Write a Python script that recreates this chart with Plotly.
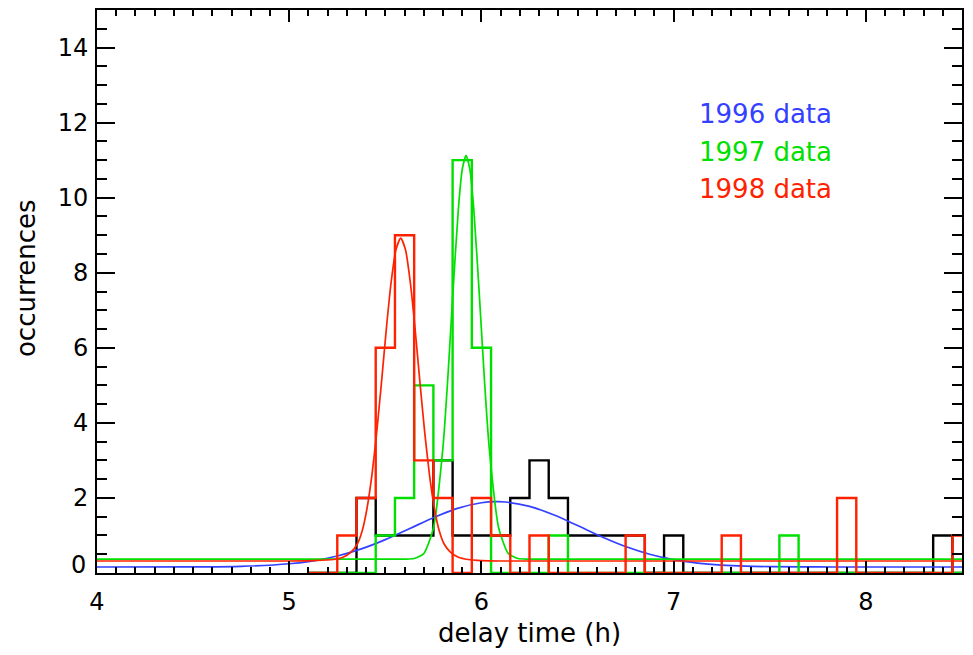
import plotly.graph_objects as go

# ---- histogram data (bin centres, 0.1 h wide bins) ----
bin_centers = [5.1, 5.2, 5.3, 5.4, 5.5, 5.6, 5.7, 5.8, 5.9, 6.0,
               6.1, 6.2, 6.3, 6.4, 6.5, 6.6, 6.7, 6.8, 6.9, 7.0,
               7.1, 7.2, 7.3, 7.4, 7.5, 7.6, 7.7, 7.8, 7.9, 8.0,
               8.1, 8.2, 8.3, 8.4, 8.5]
counts_1996 = [0, 0, 0, 2, 1, 1, 1, 3, 1, 1,
               1, 2, 3, 2, 1, 1, 1, 1, 0, 1,
               0, 0, 0, 0, 0, 0, 0, 0, 0, 0,
               0, 0, 0, 1, 0]
counts_1997 = [0, 0, 0, 0, 1, 2, 5, 3, 11, 6,
               0, 0, 0, 1, 0, 0, 0, 0, 0, 0,
               0, 0, 0, 0, 0, 1, 0, 0, 0, 0,
               0, 0, 0, 0, 0]
counts_1998 = [0, 0, 1, 2, 6, 9, 3, 2, 0, 2,
               1, 0, 1, 0, 0, 0, 0, 1, 0, 0,
               0, 0, 1, 0, 0, 0, 0, 0, 2, 0,
               0, 0, 0, 0, 1]

# ---- fitted curves ----
fit96_x = [4.0, 4.5, 4.75, 5.0, 5.125, 5.25, 5.375, 5.5, 5.625, 5.75, 5.875,
           6.0, 6.08, 6.125, 6.25, 6.375, 6.5, 6.625, 6.75, 6.875, 7.0,
           7.125, 7.25, 7.375, 7.5, 7.75, 8.0, 8.5]
fit96_y = [0.16, 0.163, 0.178, 0.246, 0.325, 0.454, 0.642, 0.89, 1.179, 1.474, 1.721,
           1.871, 1.90, 1.891, 1.775, 1.55, 1.263, 0.968, 0.706, 0.50, 0.356,
           0.264, 0.211, 0.183, 0.17, 0.161, 0.16, 0.16]

fit97_x = [4.0, 5.5, 5.6, 5.65, 5.7, 5.75, 5.8, 5.825, 5.85, 5.88, 5.90, 5.92,
           5.94, 5.96, 5.99, 6.015, 6.04, 6.09, 6.14, 6.19, 6.24, 6.4, 8.5]
fit97_y = [0.37, 0.37, 0.371, 0.386, 0.516, 1.194, 3.36, 5.19, 7.33, 9.70, 10.75, 11.13,
           10.75, 9.70, 7.33, 5.19, 3.36, 1.194, 0.516, 0.386, 0.371, 0.37, 0.37]

fit98_x = [4.0, 5.0, 5.13, 5.23, 5.28, 5.32, 5.355, 5.38, 5.405, 5.43, 5.455, 5.48,
           5.505, 5.53, 5.555, 5.58, 5.605, 5.63, 5.655, 5.68, 5.705, 5.73, 5.755,
           5.78, 5.805, 5.84, 5.88, 5.93, 6.0, 6.1, 8.5]
fit98_y = [0.32, 0.32, 0.33, 0.36, 0.42, 0.55, 0.78, 1.13, 1.73, 2.60, 3.74, 5.08,
           6.49, 7.74, 8.61, 8.92, 8.61, 7.74, 6.49, 5.08, 3.74, 2.60, 1.73,
           1.13, 0.78, 0.55, 0.42, 0.36, 0.33, 0.32, 0.32]

legend_labels = ["1996 data", "1997 data", "1998 data"]
y_tick_values = [0, 2, 4, 6, 8, 10, 12, 14]
y_tick_labels = ["", "2", "4", "6", "8", "10", "12", "14"]  # "0" drawn separately, raised as in the original

BLACK = "#000000"
BLUE = "#3340ff"
GREEN = "#00e000"
RED = "#ff2200"

fig = go.Figure()

fig.add_trace(go.Scatter(x=bin_centers, y=counts_1996, mode="lines",
                         line=dict(color=BLACK, width=2.4, shape="hvh"), hoverinfo="skip"))
fig.add_trace(go.Scatter(x=fit96_x, y=fit96_y, mode="lines",
                         line=dict(color=BLUE, width=1.7, shape="spline"), hoverinfo="skip"))
fig.add_trace(go.Scatter(x=bin_centers, y=counts_1997, mode="lines",
                         line=dict(color=GREEN, width=2.4, shape="hvh"), hoverinfo="skip"))
fig.add_trace(go.Scatter(x=fit97_x, y=fit97_y, mode="lines",
                         line=dict(color=GREEN, width=1.7, shape="spline", smoothing=0.6), hoverinfo="skip"))
fig.add_trace(go.Scatter(x=bin_centers, y=counts_1998, mode="lines",
                         line=dict(color=RED, width=2.4, shape="hvh"), hoverinfo="skip"))
fig.add_trace(go.Scatter(x=fit98_x, y=fit98_y, mode="lines",
                         line=dict(color=RED, width=1.7, shape="spline", smoothing=0.6), hoverinfo="skip"))

FONT = "DejaVu Sans"

axis_common = dict(
    showline=True, linecolor=BLACK, linewidth=2, mirror="ticks",
    showgrid=False, zeroline=False, ticks="inside", tickcolor=BLACK, tickwidth=2,
    tickfont=dict(family=FONT, size=24, color=BLACK),
)

fig.update_xaxes(range=[4, 8.5], tickmode="linear", tick0=4, dtick=1, ticklen=12,
                 ticklabelstandoff=6,
                 minor=dict(ticks="inside", tickmode="linear", dtick=0.1, tick0=4, ticklen=6,
                            tickwidth=2, tickcolor=BLACK, showgrid=False),
                 **axis_common)
fig.update_yaxes(range=[0, 15], tickmode="array", tickvals=y_tick_values, ticktext=y_tick_labels,
                 ticklen=18, ticklabelstandoff=2,
                 minor=dict(ticks="inside", tickmode="linear", dtick=0.5, tick0=0, ticklen=10,
                            tickwidth=2, tickcolor=BLACK, showgrid=False),
                 **axis_common)

annotations = [
    dict(text="delay time (h)", xref="paper", yref="paper", x=0.5, y=-0.106,
         xanchor="center", yanchor="middle", showarrow=False,
         font=dict(family=FONT, size=26, color=BLACK)),
    dict(text="occurrences", xref="paper", yref="paper", x=-0.082, y=0.524,
         xanchor="center", yanchor="middle", textangle=-90, showarrow=False,
         font=dict(family=FONT, size=26, color=BLACK)),
    dict(text="0", xref="paper", yref="paper", x=-0.0105, y=0.014,
         xanchor="right", yanchor="middle", showarrow=False,
         font=dict(family=FONT, size=24, color=BLACK)),
]
for label, col, yv in zip(legend_labels, [BLUE, GREEN, RED], [12.24, 11.23, 10.22]):
    annotations.append(dict(text=label, x=7.12, y=yv, xref="x", yref="y",
                            xanchor="left", yanchor="middle", showarrow=False,
                            font=dict(family=FONT, size=26, color=col)))

fig.update_layout(
    width=973, height=655,
    margin=dict(l=97, r=11, t=8, b=82),
    paper_bgcolor="white", plot_bgcolor="white",
    showlegend=False,
    annotations=annotations,
)

fig.write_html("out.html")
